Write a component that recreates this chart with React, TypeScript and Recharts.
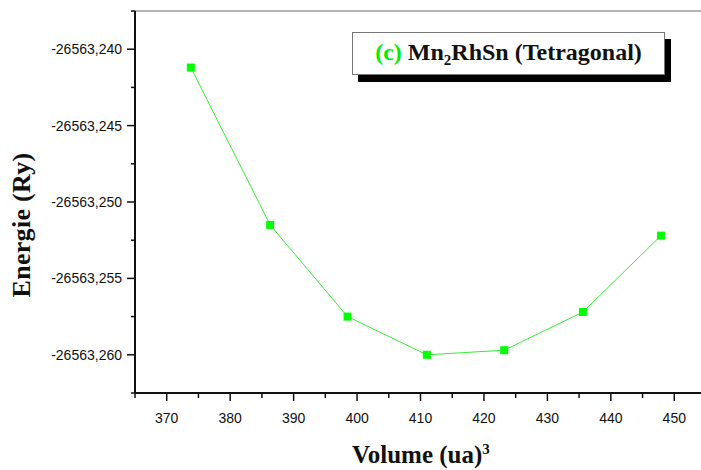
import React from "react";
import { LineChart, Line, XAxis, YAxis, ReferenceLine } from "recharts";

// volume (ua)^3 and total energy (Ry)
const volumes = [373.8, 386.3, 398.5, 411.0, 423.2, 435.6, 447.9];
const energies = [
  -26563.2412, -26563.2515, -26563.2575, -26563.26, -26563.2597, -26563.2572,
  -26563.2522,
];

const xMajor = [370, 380, 390, 400, 410, 420, 430, 440, 450];
const xMinor = [365, 375, 385, 395, 405, 415, 425, 435, 445, 455];
const yMajor = [-26563.24, -26563.245, -26563.25, -26563.255, -26563.26];
const yMinor = [-26563.2375, -26563.2425, -26563.2475, -26563.2525, -26563.2575, -26563.2625];

const data = volumes.map((v, i) => ({ v, e: energies[i] }));

const TICK_SIZE = 8;
const Y_MARGIN = 5;
const X_MARGIN = 12;
const tickFont = "'Liberation Sans', Arial, sans-serif";

const isMajor = (list: number[], v: number) => list.some((m) => Math.abs(m - v) < 1e-6);

const YTick = (props: any) => {
  const { x, y, payload } = props;
  const axisX = x + Y_MARGIN + TICK_SIZE;
  const major = isMajor(yMajor, payload.value);
  return (
    <g>
      <line x1={axisX - (major ? 8 : 4)} x2={axisX} y1={y} y2={y} stroke="#111" strokeWidth={1.5} />
      {major && (
        <text x={x} y={y} dy="0.35em" textAnchor="end" fontSize={14} fontFamily={tickFont} fill="#111">
          {payload.value.toFixed(3).replace(".", ",")}
        </text>
      )}
    </g>
  );
};

const XTick = (props: any) => {
  const { x, y, payload } = props;
  const axisY = y - X_MARGIN - TICK_SIZE;
  const major = isMajor(xMajor, payload.value);
  return (
    <g>
      <line x1={x} x2={x} y1={axisY} y2={axisY + (major ? 8 : 5)} stroke="#111" strokeWidth={1.5} />
      {major && (
        <text x={x} y={y} dy="0.71em" textAnchor="middle" fontSize={14} fontFamily={tickFont} fill="#111">
          {payload.value}
        </text>
      )}
    </g>
  );
};

const Square = (p: any) => (
  <rect key={p.index} x={p.cx - 4} y={p.cy - 4} width={8} height={8} fill="#00ff00" />
);

const serif = "'Liberation Serif', 'Times New Roman', serif";

export default function App() {
  return (
    <div
      style={{
        position: "absolute",
        left: 0,
        top: 0,
        width: 701,
        height: 470,
        overflow: "hidden",
        background: "#fff",
      }}
    >
      <LineChart
        width={720}
        height={470}
        data={data}
        margin={{ top: 11, right: 14, bottom: 47, left: 0 }}
      >
        <XAxis
          type="number"
          dataKey="v"
          domain={[365, 455]}
          ticks={[...xMinor, ...xMajor].sort((a, b) => a - b)}
          interval={0}
          height={30}
          tickSize={TICK_SIZE}
          tickMargin={X_MARGIN}
          tickLine={false}
          tick={<XTick />}
          axisLine={{ stroke: "#111", strokeWidth: 2 }}
        />
        <YAxis
          type="number"
          domain={[-26563.2625, -26563.2375]}
          ticks={[...yMinor, ...yMajor].sort((a, b) => a - b)}
          interval={0}
          width={135}
          tickSize={TICK_SIZE}
          tickMargin={Y_MARGIN}
          tickLine={false}
          tick={<YTick />}
          axisLine={{ stroke: "#111", strokeWidth: 2 }}
          allowDataOverflow
        />
        <ReferenceLine y={-26563.2375} stroke="#666" strokeWidth={1} />
        <Line
          dataKey="e"
          stroke="#33ee33"
          strokeWidth={1}
          dot={Square}
          activeDot={false}
          isAnimationActive={false}
        />
      </LineChart>

      <div
        style={{
          position: "absolute",
          left: 22,
          top: 225,
          transform: "translate(-50%, -50%) rotate(-90deg)",
          whiteSpace: "nowrap",
          fontFamily: serif,
          fontWeight: "bold",
          fontSize: 26,
          letterSpacing: 0.3,
          color: "#111",
        }}
      >
        Energie (Ry)
      </div>

      <div
        style={{
          position: "absolute",
          left: 352,
          top: 441,
          whiteSpace: "nowrap",
          fontFamily: serif,
          fontWeight: "bold",
          fontSize: 25,
          color: "#111",
        }}
      >
        Volume (ua)<sup style={{ fontSize: 15 }}>3</sup>
      </div>

      <div
        style={{
          position: "absolute",
          left: 352,
          top: 32,
          width: 311,
          height: 41,
          border: "1px solid #777",
          background: "#fff",
          boxShadow: "6px 7px 0 #000",
          display: "flex",
          alignItems: "center",
          justifyContent: "center",
          whiteSpace: "nowrap",
          fontFamily: serif,
          fontWeight: "bold",
          fontSize: 24,
          color: "#111",
        }}
      >
        <span>
          <span style={{ color: "#00ee00" }}>(c)</span> Mn
          <sub style={{ fontSize: 15, verticalAlign: "-5px" }}>2</sub>RhSn (Tetragonal)
        </span>
      </div>
    </div>
  );
}
